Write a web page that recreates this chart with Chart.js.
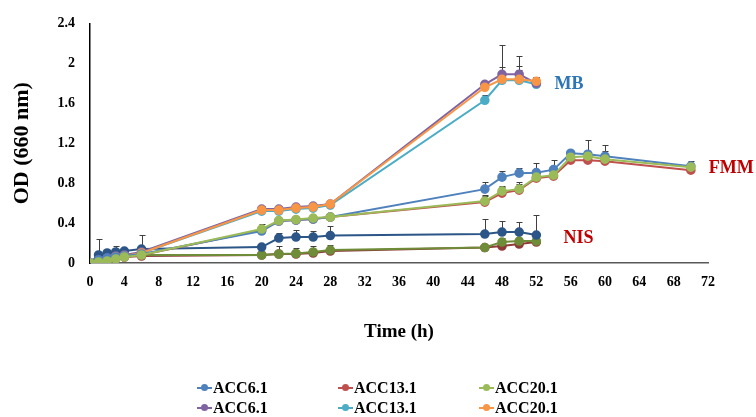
<!DOCTYPE html>
<html>
<head>
<meta charset="utf-8">
<script src="https://cdn.jsdelivr.net/npm/chart.js@4.4.0/dist/chart.umd.min.js"></script>
<style>
  html, body { margin: 0; padding: 0; background: #fff; }
  #wrap { position: relative; width: 756px; height: 417px; }
  #legend {
    position: absolute; left: 197px; top: 378px;
    display: grid; grid-template-columns: repeat(3, 141px);
    font: bold 16px 'Liberation Serif', 'Times New Roman', serif; color: #000;
  }
  .item { display: flex; align-items: center; height: 20px; }
  .mark { position: relative; width: 15px; height: 2px; margin-right: 1px; }
  .mark i { position: absolute; left: 4px; top: -3px; width: 7px; height: 7px; border-radius: 50%; }
</style>
</head>
<body>
<div id="wrap">
  <canvas id="growthChart" width="756" height="417"></canvas>
  <div id="legend"></div>
</div>
<script>
// sampling times (h)
const timeLong = [0, 1, 2, 3, 4, 6, 20, 22, 24, 26, 28, 46, 48, 50, 52, 54, 56, 58, 60, 70];
const timeShort = [0, 1, 2, 3, 4, 6, 20, 22, 24, 26, 28, 46, 48, 50, 52];

const strainNames = ['ACC6.1', 'ACC13.1', 'ACC20.1'];

// FMM medium
const fmm61 = [0, 0.03, 0.05, 0.06, 0.07, 0.09, 0.32, 0.42, 0.43, 0.44, 0.46, 0.74, 0.86, 0.90, 0.905, 0.935, 1.10, 1.09, 1.07, 0.97];
const fmm131 = [0, 0.02, 0.03, 0.05, 0.06, 0.08, 0.33, 0.42, 0.43, 0.44, 0.46, 0.61, 0.70, 0.73, 0.85, 0.87, 1.03, 1.03, 1.02, 0.93];
const fmm201 = [0, 0.01, 0.02, 0.04, 0.06, 0.08, 0.34, 0.425, 0.435, 0.45, 0.46, 0.62, 0.72, 0.74, 0.86, 0.88, 1.06, 1.07, 1.04, 0.96];
const errFmm61 = [0, 0, 0, 0, 0, 0, 0.03, 0.03, 0.03, 0.03, 0.03, 0.07, 0.06, 0.05, 0.10, 0.10, 0.02, 0.14, 0.11, 0.05];
const errFmm131 = [0, 0, 0, 0, 0, 0, 0.04, 0.02, 0.02, 0.02, 0.02, 0.06, 0.06, 0.06, 0.02, 0.02, 0.02, 0.03, 0.03, 0.02];
const errFmm201 = [0, 0, 0, 0, 0, 0, 0.05, 0.03, 0.03, 0.03, 0.03, 0.06, 0.05, 0.07, 0.03, 0.02, 0.02, 0.04, 0.08, 0.03];

// MB medium
const mb61 = [0, 0.03, 0.05, 0.07, 0.08, 0.11, 0.54, 0.54, 0.56, 0.57, 0.59, 1.79, 1.89, 1.89, 1.80];
const mb131 = [0, 0.02, 0.04, 0.06, 0.07, 0.10, 0.52, 0.52, 0.54, 0.55, 0.58, 1.63, 1.83, 1.83, 1.79];
const mb201 = [0, 0.02, 0.04, 0.06, 0.07, 0.10, 0.53, 0.53, 0.55, 0.56, 0.59, 1.76, 1.84, 1.84, 1.82];
const errMb61 = [0, 0.02, 0.02, 0.02, 0.02, 0.02, 0.03, 0.03, 0.03, 0.03, 0.03, 0.02, 0.29, 0.18, 0.06];
const errMb131 = [0, 0, 0, 0, 0, 0, 0.02, 0.02, 0.02, 0.02, 0.02, 0.05, 0.05, 0.10, 0.02];
const errMb201 = [0, 0, 0, 0, 0, 0, 0.02, 0.02, 0.02, 0.02, 0.02, 0.02, 0.12, 0.13, 0.04];

// NIS medium
const nis61 = [0, 0.08, 0.10, 0.11, 0.12, 0.14, 0.16, 0.25, 0.26, 0.26, 0.275, 0.29, 0.31, 0.31, 0.28];
const nis131 = [0, 0.03, 0.04, 0.05, 0.06, 0.07, 0.08, 0.09, 0.09, 0.10, 0.12, 0.155, 0.17, 0.19, 0.21];
const nis201 = [0, 0.04, 0.05, 0.06, 0.07, 0.08, 0.08, 0.09, 0.095, 0.11, 0.13, 0.155, 0.21, 0.22, 0.22];
const errNis61 = [0, 0.16, 0.03, 0.06, 0.02, 0.14, 0.02, 0.05, 0.07, 0.06, 0.10, 0.15, 0.11, 0.10, 0.20];
const errNis131 = [0, 0, 0, 0, 0, 0, 0, 0.03, 0.02, 0.02, 0.02, 0.02, 0.02, 0.02, 0.02];
const errNis201 = [0, 0.02, 0.02, 0.03, 0.02, 0.02, 0.02, 0.08, 0.06, 0.06, 0.05, 0.03, 0.04, 0.03, 0.03];

// medium labels drawn inside the plot
const mediumNames = ['MB', 'FMM', 'NIS'];

const FONT = "'Liberation Serif', 'Times New Roman', serif";

function pts(xs, ys) {
    return ys.map((y, i) => ({ x: xs[i], y: y }));
}

function series(label, xs, ys, errs, color, order) {
    return {
        label: label,
        data: pts(xs, ys),
        errors: errs,
        borderColor: color,
        backgroundColor: color,
        pointBackgroundColor: color,
        pointBorderColor: color,
        borderWidth: 2,
        pointRadius: 3.8,
        pointHoverRadius: 3.8,
        tension: 0,
        order: order
    };
}

// lower order = drawn on top
const datasets = [
    series(strainNames[0], timeLong, fmm61, errFmm61, '#4F81BD', 2),
    series(strainNames[1], timeLong, fmm131, errFmm131, '#C0504D', 3),
    series(strainNames[2], timeLong, fmm201, errFmm201, '#9BBB59', 1),
    series(strainNames[0], timeShort, mb61, errMb61, '#8064A2', 5),
    series(strainNames[1], timeShort, mb131, errMb131, '#4BACC6', 6),
    series(strainNames[2], timeShort, mb201, errMb201, '#F79646', 4),
    series(strainNames[0], timeShort, nis61, errNis61, '#2C5687', 7),
    series(strainNames[1], timeShort, nis131, errNis131, '#8E3B38', 9),
    series(strainNames[2], timeShort, nis201, errNis201, '#6F8C38', 8)
];

// upward error bars, drawn under the markers
const errorBars = {
    id: 'errorBars',
    beforeDatasetsDraw(chart) {
        const ctx = chart.ctx;
        const xs = chart.scales.x, ys = chart.scales.y;
        ctx.save();
        ctx.strokeStyle = '#404040';
        ctx.lineWidth = 1;
        chart.data.datasets.forEach(ds => {
            ds.data.forEach((p, i) => {
                const e = ds.errors[i];
                if (!e) return;
                const px = Math.round(xs.getPixelForValue(p.x)) + 0.5;
                const y0 = ys.getPixelForValue(p.y);
                const y1 = Math.round(ys.getPixelForValue(p.y + e)) + 0.5;
                ctx.beginPath();
                ctx.moveTo(px, y0);
                ctx.lineTo(px, y1);
                ctx.moveTo(px - 3, y1);
                ctx.lineTo(px + 3, y1);
                ctx.stroke();
            });
        });
        ctx.restore();
    }
};

// medium names next to the curves
const mediumLabels = {
    id: 'mediumLabels',
    afterDatasetsDraw(chart) {
        const ctx = chart.ctx;
        const xs = chart.scales.x, ys = chart.scales.y;
        const spots = [[55.8, 1.79, '#2E75B6'], [74.7, 0.95, '#C00000'], [56.9, 0.25, '#C00000']];
        ctx.save();
        ctx.font = 'bold 18px ' + FONT;
        ctx.textAlign = 'center';
        ctx.textBaseline = 'middle';
        mediumNames.forEach((name, i) => {
            const s = spots[i];
            ctx.fillStyle = s[2];
            ctx.fillText(name, xs.getPixelForValue(s[0]), ys.getPixelForValue(s[1]));
        });
        ctx.restore();
    }
};

const ctx = document.getElementById('growthChart').getContext('2d');
const growthChart = new Chart(ctx, {
    type: 'line',
    data: { datasets: datasets },
    options: {
        responsive: false,
        animation: false,
        events: [],
        layout: { padding: { left: 0, right: 48, top: 20, bottom: 70 } },
        plugins: {
            legend: { display: false },
            tooltip: { enabled: false }
        },
        scales: {
            x: {
                type: 'linear',
                min: 0,
                max: 72,
                afterFit: s => { s.height = 84; },
                ticks: {
                    stepSize: 4,
                    color: '#000',
                    padding: 11,
                    maxRotation: 0,
                    font: { family: FONT, size: 14, weight: 'bold' }
                },
                grid: { display: false, drawTicks: false },
                border: { display: true, color: '#595959', width: 1.5 },
                title: {
                    display: true,
                    text: 'Time (h)',
                    color: '#000',
                    padding: { top: 0, bottom: 4 },
                    font: { family: FONT, size: 19, weight: 'bold' }
                }
            },
            y: {
                min: 0,
                max: 2.4,
                afterFit: s => { s.width = 90; },
                ticks: {
                    stepSize: 0.4,
                    color: '#000',
                    padding: 15,
                    callback: v => String(+v.toFixed(1)),
                    font: { family: FONT, size: 14, weight: 'bold' }
                },
                grid: { display: false, drawTicks: false },
                border: { display: true, color: '#000', width: 1.5 },
                title: {
                    display: true,
                    text: 'OD (660 nm)',
                    color: '#000',
                    padding: { top: 9, bottom: 0 },
                    font: { family: FONT, size: 22, weight: 'bold' }
                }
            }
        }
    },
    plugins: [errorBars, mediumLabels]
});

// legend: only the first six series are listed
const legendBox = document.getElementById('legend');
datasets.slice(0, 6).forEach(ds => {
    const item = document.createElement('div');
    item.className = 'item';
    item.innerHTML = '<span class="mark" style="background:' + ds.borderColor + '"><i style="background:' +
        ds.borderColor + '"></i></span><span>' + ds.label + '</span>';
    legendBox.appendChild(item);
});
</script>
</body>
</html>
